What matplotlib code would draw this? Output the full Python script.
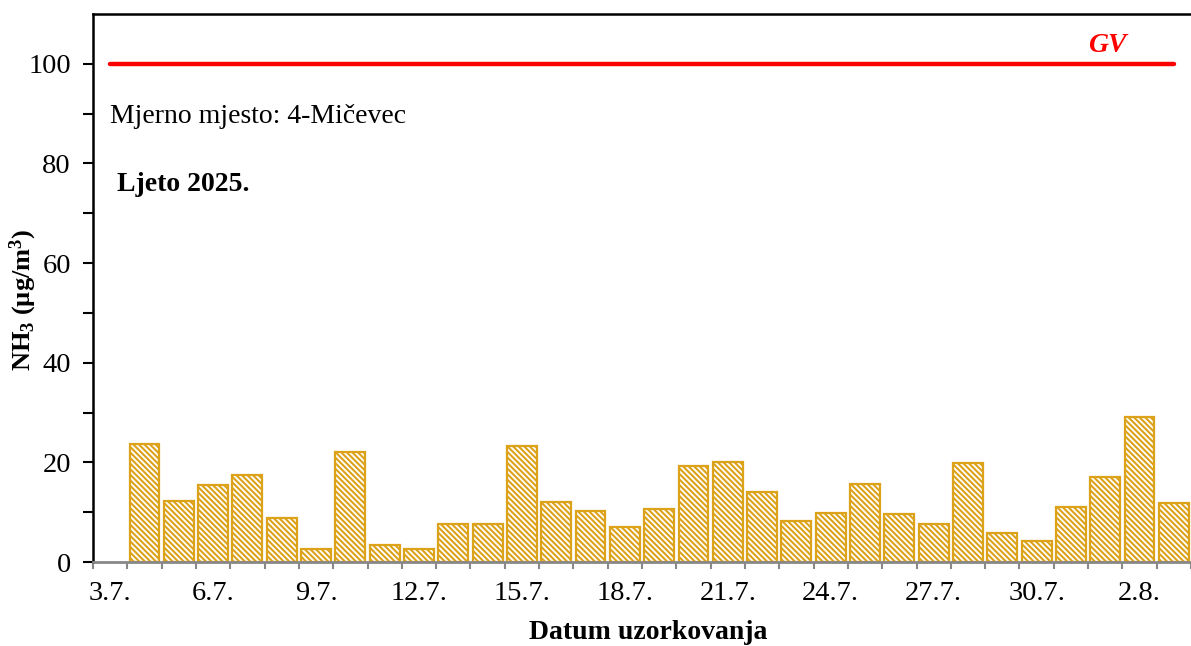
import matplotlib
matplotlib.use("Agg")
import matplotlib.pyplot as plt
import numpy as np

plt.rcParams["font.family"] = ["Liberation Serif", "DejaVu Serif"]
plt.rcParams["mathtext.default"] = "regular"
plt.rcParams["hatch.linewidth"] = 1.5

# ── Data ─────────────────────────────────────────────────────────────
dates = [
    "3.7.", "4.7.", "5.7.", "6.7.", "7.7.", "8.7.", "9.7.", "10.7.",
    "11.7.", "12.7.", "13.7.", "14.7.", "15.7.", "16.7.", "17.7.", "18.7.",
    "19.7.", "20.7.", "21.7.", "22.7.", "23.7.", "24.7.", "25.7.", "26.7.",
    "27.7.", "28.7.", "29.7.", "30.7.", "31.7.", "1.8.", "2.8.", "3.8.",
]
nh3 = [
    np.nan, 23.7, 12.3, 15.4, 17.4, 8.9, 2.7, 22.0,
    3.5, 2.7, 7.6, 7.6, 23.2, 12.1, 10.3, 7.1,
    10.7, 19.2, 20.0, 14.0, 8.3, 9.8, 15.6, 9.6,
    7.6, 19.8, 5.8, 4.2, 11.0, 17.0, 29.1, 11.8,
]
limit_value = 100

BAR_COLOR = "#DCA21A"

fig = plt.figure(figsize=(11.91, 6.46), dpi=100, facecolor="white")
ax = fig.add_axes([0.0781, 0.130, 0.9219, 0.8483])

x = np.arange(len(dates))
ax.bar(x, nh3, width=0.87, color="white", edgecolor=BAR_COLOR,
       hatch="\\" * 6, linewidth=1.6, zorder=2)

# limit value line
ax.plot(x, [limit_value] * len(x), color="#FF0000", linewidth=3.2,
        solid_capstyle="round", zorder=3)
ax.text(29.05, 103.6, "GV", color="#FF0000", fontsize=20, fontstyle="italic",
        fontweight="bold", ha="center", va="center")

ax.text(0.0, 89.5, "Mjerno mjesto: 4-Mičevec", fontsize=20, ha="left", va="center")
ax.text(0.2, 75.8, "Ljeto 2025.", fontsize=20, fontweight="bold", ha="left", va="center")

ax.set_xlim(-0.5, 31.23)
ax.set_ylim(0, 110)

# x axis: labels every 3rd day, tick marks between categories
ax.set_xticks(x[::3])
ax.set_xticklabels(dates[::3], fontsize=20.5)
ax.set_xticks(np.arange(-0.5, len(dates), 1), minor=True)
ax.tick_params(axis="x", which="major", length=0, pad=14)
ax.tick_params(axis="x", which="minor", length=5, width=1.5, color="#888888", direction="out")

ax.set_yticks(np.arange(0, 101, 20))
ax.set_yticks(np.arange(10, 101, 20), minor=True)
ax.tick_params(axis="y", which="both", length=7, width=1.5, color="black", direction="out",
               labelsize=20.5, pad=9)

ax.spines["bottom"].set_color("#888888")
ax.spines["bottom"].set_linewidth(2)
ax.spines["left"].set_linewidth(1.8)
ax.spines["top"].set_linewidth(1.8)
ax.spines["right"].set_visible(False)

ax.set_xlabel("Datum uzorkovanja", fontsize=20, fontweight="bold")
ax.xaxis.set_label_coords(0.5055, -0.106)
ax.set_ylabel("NH$_3$ (µg/m$^3$)", fontsize=19, fontweight="bold")
ax.yaxis.set_label_coords(-0.049, 0.478)

fig.savefig("out.png", dpi=100, facecolor="white")
